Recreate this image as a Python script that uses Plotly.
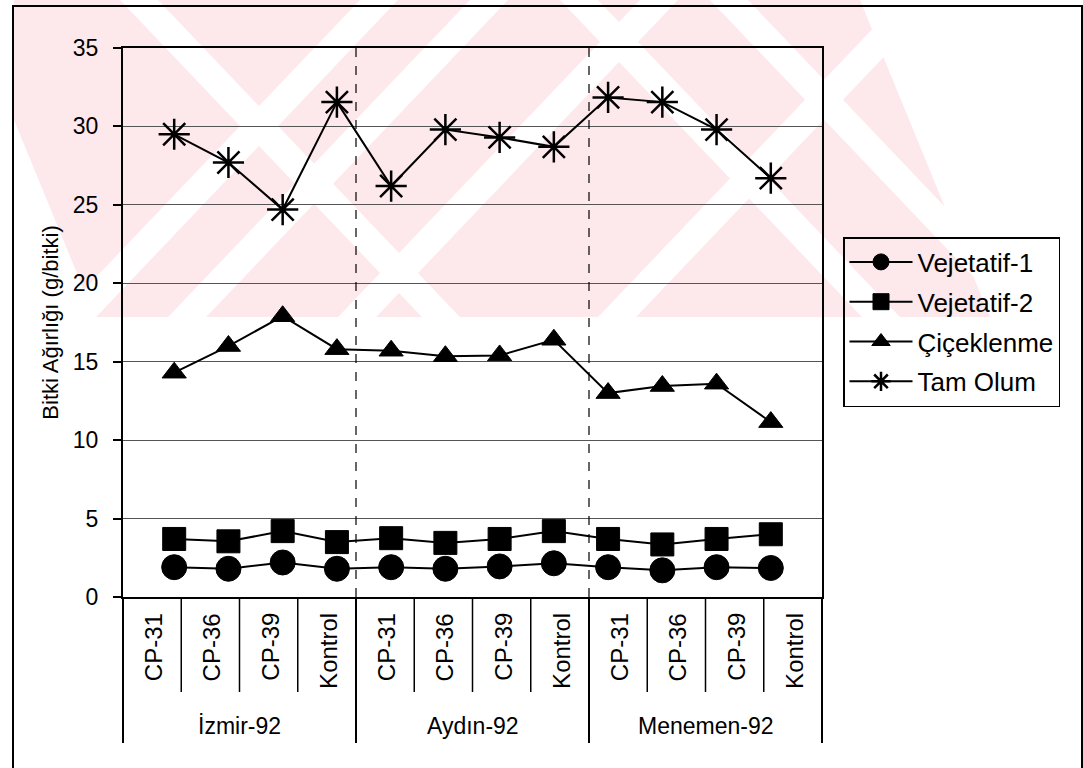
import plotly.graph_objects as go

# Locations (outer level) and treatments (inner level) of the x axis
locations = ["İzmir-92"] * 4 + ["Aydın-92"] * 4 + ["Menemen-92"] * 4
treatments = ["CP-31", "CP-36", "CP-39", "Kontrol"] * 3

# Plant weight (g/plant) at each growth stage
vejetatif_1 = [1.9, 1.8, 2.2, 1.8, 1.9, 1.8, 1.95, 2.15, 1.9, 1.7, 1.9, 1.85]
vejetatif_2 = [3.7, 3.55, 4.2, 3.5, 3.75, 3.45, 3.7, 4.2, 3.7, 3.35, 3.7, 4.0]
ciceklenme = [14.3, 16.0, 17.9, 15.8, 15.7, 15.35, 15.4, 16.4, 13.0, 13.45, 13.6, 11.15]
tam_olum = [29.5, 27.7, 24.7, 31.55, 26.2, 29.8, 29.3, 28.7, 31.85, 31.55, 29.8, 26.7]

y_ticks = [0, 5, 10, 15, 20, 25, 30, 35]

FONT = "Liberation Sans, Arial, sans-serif"
W, H = 1083, 768
L, R, T, B = 123, 261, 48, 171
PW, PH = W - L - R, H - T - B


def px(x):
    """pixel column -> paper x"""
    return (x - L) / PW


def py(y):
    """pixel row -> paper y"""
    return (H - B - y) / PH


def poly(pts):
    return "M " + " L ".join(f"{px(x):.4f},{py(y):.4f}" for x, y in pts) + " Z"


series = [
    ("Vejetatif-1", vejetatif_1, dict(symbol="circle", size=25)),
    ("Vejetatif-2", vejetatif_2, dict(symbol="square", size=23)),
    ("Çiçeklenme", ciceklenme, dict(symbol="triangle-up", size=21)),
    ("Tam Olum", tam_olum, dict(symbol="asterisk-open", size=26,
                                line=dict(color="black", width=2.5))),
]

fig = go.Figure()
for i, (name, values, marker) in enumerate(series):
    marker = dict(marker)
    marker.setdefault("color", "black")
    marker.setdefault("line", dict(color="black", width=1))
    fig.add_trace(go.Scatter(
        x=[locations, treatments],
        y=values,
        name=name,
        legendgroup=f"g{i}",
        mode="lines+markers",
        line=dict(color="black", width=2),
        marker=marker,
    ))

n = len(treatments)
shapes = []

# faint pink stamp across the top of the page, cut by white diagonal stripes
PINK = "#fde8ec"
TOP, BOT = 0, 317
shapes.append(dict(type="path", xref="paper", yref="paper",
                   path=poly([(14, TOP), (860, TOP), (990, BOT), (95, BOT), (14, 120)]),
                   fillcolor=PINK, line=dict(width=0), layer="below"))
run = BOT / 1.05         # horizontal run of a stripe over the stamp height
sw = 38                  # horizontal stripe width
for x0 in (120, 560, 710):            # "\" stripes
    shapes.append(dict(type="path", xref="paper", yref="paper",
                       path=poly([(x0, TOP), (x0 + sw, TOP),
                                  (x0 + sw + run, BOT), (x0 + run, BOT)]),
                       fillcolor="white", line=dict(width=0), layer="below"))
for x0 in (360, 470, 640, 900):       # "/" stripes
    shapes.append(dict(type="path", xref="paper", yref="paper",
                       path=poly([(x0, TOP), (x0 + sw, TOP),
                                  (x0 + sw - run, BOT), (x0 - run, BOT)]),
                       fillcolor="white", line=dict(width=0), layer="below"))

# dashed vertical lines separating the locations inside the plot
for k in (4, 8):
    shapes.append(dict(type="line", xref="x domain", yref="paper",
                       x0=k / n, x1=k / n, y0=0, y1=1,
                       line=dict(color="black", width=1.2, dash="dash")))

# separators between treatment labels below the axis
for k in range(1, n):
    if k % 4 == 0:
        continue
    shapes.append(dict(type="line", xref="x domain", yref="paper",
                       x0=k / n, x1=k / n, y0=0, y1=py(692),
                       line=dict(color="black", width=1.5)))

# separators between location labels
for k in (0, 4, 8, 12):
    shapes.append(dict(type="line", xref="x domain", yref="paper",
                       x0=k / n, x1=k / n, y0=0, y1=py(743),
                       line=dict(color="black", width=2)))

# chart frame
shapes.append(dict(type="rect", xref="paper", yref="paper",
                   x0=px(13), x1=px(1082), y0=py(775), y1=py(6),
                   line=dict(color="black", width=2)))

annotations = []
# treatment labels, written bottom-to-top
for i, t in enumerate(treatments):
    annotations.append(dict(
        text=t, xref="x domain", yref="paper",
        x=(i + 0.5) / n, y=py(611), xanchor="center", yanchor="top",
        textangle=-90, showarrow=False, xshift=1,
        font=dict(family=FONT, size=24, color="black"),
    ))
# location labels
for g in range(0, n, 4):
    annotations.append(dict(
        text=locations[g], xref="x domain", yref="paper",
        x=(g + 2) / n, y=py(726), xanchor="center", yanchor="middle",
        showarrow=False,
        font=dict(family=FONT, size=23, color="black"),
    ))

fig.update_layout(
    width=W,
    height=H,
    margin=dict(l=L, r=R, t=T, b=B),
    paper_bgcolor="white",
    plot_bgcolor="rgba(0,0,0,0)",
    font=dict(family=FONT, color="black", size=22),
    showlegend=True,
    legend=dict(
        x=px(843), y=py(237), xanchor="left", yanchor="top",
        bordercolor="black", borderwidth=1.5,
        font=dict(family=FONT, size=26, color="black"),
        tracegroupgap=3,
        traceorder="grouped",
        itemwidth=63,
        bgcolor="rgba(0,0,0,0)",
    ),
    shapes=shapes,
    annotations=annotations,
)

fig.update_xaxes(
    type="multicategory",
    showline=True, linecolor="black", linewidth=2, mirror=True,
    showgrid=False,
    ticks="",
    showticklabels=False,
    showdividers=False,
)

fig.update_yaxes(
    range=[0, 35],
    tickvals=y_ticks,
    showline=True, linecolor="black", linewidth=2, mirror=True,
    showgrid=True, gridcolor="#555555", gridwidth=1,
    ticks="outside", ticklen=8, tickcolor="black", tickwidth=1.5,
    ticklabelstandoff=10,
    tickfont=dict(family=FONT, size=23, color="black"),
    zeroline=False,
    title=dict(text="Bitki Ağırlığı (g/bitki)", standoff=8,
               font=dict(family=FONT, size=22, color="black")),
)

fig.write_html("out.html")
